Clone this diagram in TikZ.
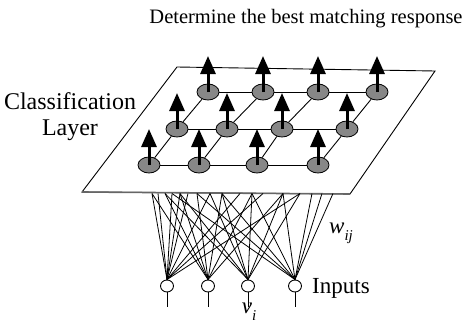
\documentclass[tikz,border=0pt]{standalone}
\usepackage{fontspec}
\setmainfont{Liberation Serif}
\usetikzlibrary{arrows.meta,shapes.geometric,backgrounds}
\definecolor{unitgray}{RGB}{135,135,135}
\newcommand{\subit}[1]{\raisebox{-0.3em}{\fontsize{15}{17}\selectfont\textit{#1}}}
\begin{document}
\begin{tikzpicture}[x=1pt,y=-1pt,
  unit/.style={draw, ellipse, fill=unitgray, minimum width=22pt, minimum height=16pt, inner sep=0pt, line width=0.8pt},
  inp/.style={draw, ellipse, fill=white, minimum width=13pt, minimum height=12pt, inner sep=0pt, line width=0.9pt},
  outarrow/.style={line width=3pt, -{Triangle[width=15pt,length=18pt]}},
  gridline/.style={line width=0.9pt},
  fan/.style={line width=0.8pt},
  lbl/.style={inner sep=0pt, font=\fontsize{23}{26}\selectfont}
]
\useasboundingbox (0,0) rectangle (472,324);

% texts
\node[inner sep=0pt, font=\fontsize{20.5}{24}\selectfont] (title) at (306,19) {Determine the best matching response};
\node[inner sep=0pt, font=\fontsize{24}{28}\selectfont, align=center] (cls) at (70,117) {Classification\\[-2pt]Layer};
\node[lbl, anchor=west] (inputs) at (312,288) {Inputs};
\node[lbl] (wij) at (341,233) {\textit{w}\subit{ij}};
\node[lbl] (vi) at (249,312) {\textit{v}\subit{i}};

% plane corners
\coordinate (p1) at (177,67);
\coordinate (p2) at (435,71);
\coordinate (p3) at (350,194);
\coordinate (p4) at (82,192);

% grid units
\foreach \x [count=\c] in {208,263,318,377} \node[unit] (n1\c) at (\x,92) {};
\foreach \x [count=\c] in {177,227,282,347} \node[unit] (n2\c) at (\x,129) {};
\foreach \x [count=\c] in {149,199,257,318} \node[unit] (n3\c) at (\x,165) {};

% inputs
\foreach \x [count=\c] in {167,208,248,295} {
  \node[inp] (i\c) at (\x,286) {};
  \coordinate (s\c) at (\x,307);
}

% fan top points on bottom edge
\foreach \x [count=\c] in {152,158,165,172,180,188,197,210,222,240,252,263,283,300,312,322,333} \coordinate (t\c) at (\x,193.5);

\begin{scope}[on background layer]
  \draw[line width=0.9pt] (p1) -- (p2) -- (p3) -- (p4) -- cycle;
  \draw[line width=1.6pt, black!60] (p4) -- (p3);
  % fan connections
  \foreach \t in {1,2,4,5,6,8,10,12,14} \draw[fan] (i1.north) -- (t\t);
  \foreach \t in {1,3,5,7,9,11,13} \draw[fan] (i2.north) -- (t\t);
  \foreach \t in {3,5,8,9,11,13,14} \draw[fan] (i3.north) -- (t\t);
  \foreach \t in {4,7,9,11,13,15,16,17} \draw[fan] (i4.north) -- (t\t);
  % grid
  \foreach \r in {1,2,3} \draw[gridline] (n\r1) -- (n\r2) -- (n\r3) -- (n\r4);
  \foreach \c in {1,2,3,4} \draw[gridline] (n3\c) -- (n2\c) -- (n1\c);
\end{scope}

% stems
\foreach \c in {1,2,3,4} \draw[line width=0.9pt] (i\c.south) -- (s\c);

% output arrows
\foreach \r in {1,2,3} \foreach \c in {1,2,3,4} \draw[outarrow] (n\r\c.center) -- ++(0,-36);
\end{tikzpicture}
\end{document}
